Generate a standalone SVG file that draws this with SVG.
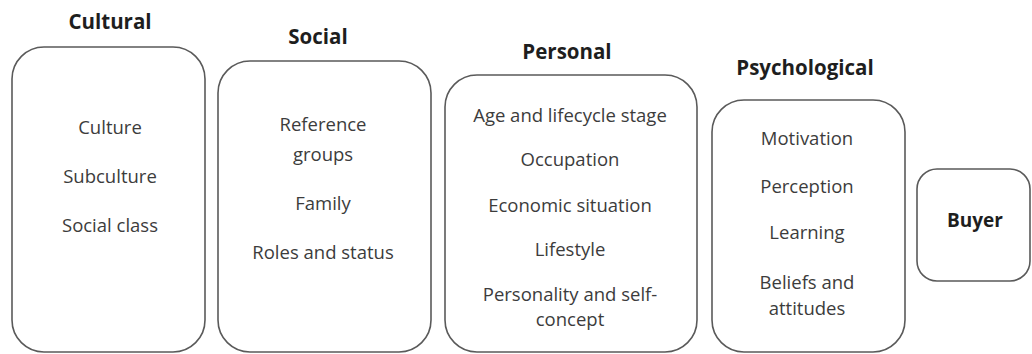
<svg xmlns="http://www.w3.org/2000/svg" width="1032" height="354" viewBox="0 0 1032 354">
<style>
.box{fill:#fff;stroke:#5a5a5a;stroke-width:1.6}
.t{font-family:"Open Sans","Liberation Sans",sans-serif;font-size:18.5px;fill:#3c3c3c;text-anchor:middle}
.h{font-family:"Open Sans","Liberation Sans",sans-serif;font-size:20.5px;font-weight:bold;fill:#1e1e1e;text-anchor:middle}
</style>
<rect width="1032" height="354" fill="#fff"/>
<g id="cultural">
<text class="h" x="110" y="29">Cultural</text>
<rect class="box" x="12" y="47" width="193" height="305" rx="32"/>
<text class="t" x="110" y="134">Culture</text>
<text class="t" x="110" y="183">Subculture</text>
<text class="t" x="110" y="232">Social class</text>
</g>
<g id="social">
<text class="h" x="318" y="44">Social</text>
<rect class="box" x="218" y="61" width="213" height="291" rx="32"/>
<text class="t" x="323" y="131">Reference</text>
<text class="t" x="323" y="161">groups</text>
<text class="t" x="323" y="210">Family</text>
<text class="t" x="323" y="259">Roles and status</text>
</g>
<g id="personal">
<text class="h" x="567" y="59">Personal</text>
<rect class="box" x="445" y="75" width="252" height="277" rx="32"/>
<text class="t" x="570" y="122">Age and lifecycle stage</text>
<text class="t" x="570" y="166">Occupation</text>
<text class="t" x="570" y="212">Economic situation</text>
<text class="t" x="570" y="256">Lifestyle</text>
<text class="t" x="570" y="301">Personality and self-</text>
<text class="t" x="570" y="326">concept</text>
</g>
<g id="psychological">
<text class="h" x="805" y="75">Psychological</text>
<rect class="box" x="712" y="100" width="193" height="252" rx="32"/>
<text class="t" x="807" y="145">Motivation</text>
<text class="t" x="807" y="193">Perception</text>
<text class="t" x="807" y="239">Learning</text>
<text class="t" x="807" y="289">Beliefs and</text>
<text class="t" x="807" y="315">attitudes</text>
</g>
<g id="buyer">
<rect class="box" x="917" y="169" width="113" height="112" rx="20"/>
<text class="h" x="975" y="227" style="font-size:19px">Buyer</text>
</g>
<g id="connectors"></g>
</svg>
